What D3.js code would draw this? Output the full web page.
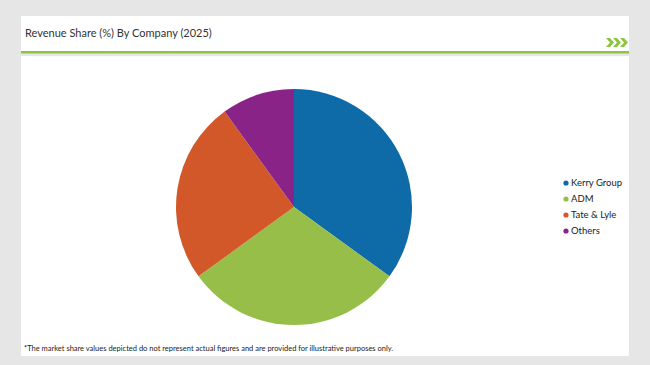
<!DOCTYPE html>
<html>
<head>
<meta charset="utf-8">
<script src="https://cdn.jsdelivr.net/npm/d3@7"></script>
<style>
  body { margin: 0; background: #e6e6e6; }
  svg { display: block; font-family: Lato, "Open Sans", sans-serif; }
</style>
</head>
<body>
<svg width="650" height="365"></svg>
<script>
const companies = ["Kerry Group", "ADM", "Tate & Lyle", "Others"];
const shares = [35, 30, 25, 10];
const colors = ["#0f6aa8", "#97be48", "#d2582a", "#8a2387"];

const svg = d3.select("svg");

// header panel
svg.append("rect").attr("x", 21).attr("y", 16).attr("width", 608).attr("height", 36).attr("fill", "#fff");
svg.append("rect").attr("x", 21).attr("y", 51).attr("width", 608).attr("height", 2.5).attr("fill", "#8cc63f");
svg.append("text")
    .attr("x", 25).attr("y", 37)
    .attr("font-size", 11)
    .attr("fill", "#333")
    .text("Revenue Share (%) By Company (2025)");

// chevrons
const chev = svg.append("g").attr("fill", "#8cc63f");
[606, 613, 620].forEach(x => {
    chev.append("path").attr("d", `M${x},38 L${x + 4},38 L${x + 8},42.5 L${x + 4},47 L${x},47 L${x + 4},42.5 Z`);
});

// body panel
svg.append("rect").attr("x", 21).attr("y", 56).attr("width", 608).attr("height", 300).attr("fill", "#fff");

const pieLayer = svg.append("g").attr("transform", "translate(294,207)");
const pie = d3.pie().sort(null).value(d => d);
const arc = d3.arc().innerRadius(0).outerRadius(118);
const color = d3.scaleOrdinal().domain(companies).range(colors);

pieLayer.selectAll(".slice")
    .data(pie(shares))
    .enter()
    .append("path")
    .attr("class", "slice")
    .attr("d", arc)
    .attr("fill", (d, i) => color(companies[i]));

// legend
const legend = svg.append("g").attr("transform", "translate(566,183)");
const rows = legend.selectAll(".row")
    .data(companies)
    .enter()
    .append("g")
    .attr("class", "row")
    .attr("transform", (d, i) => `translate(0, ${i * 16})`);
rows.append("circle").attr("r", 2.6).attr("fill", d => color(d));
rows.append("text")
    .attr("x", 5).attr("y", 3.3)
    .attr("font-size", 9.5)
    .attr("fill", "#222")
    .text(d => d);

svg.append("text")
    .attr("x", 24).attr("y", 351)
    .attr("font-size", 7.5)
    .attr("fill", "#222")
    .text("*The market share values depicted do not represent actual figures and are provided for illustrative purposes only.");
</script>
</body>
</html>
